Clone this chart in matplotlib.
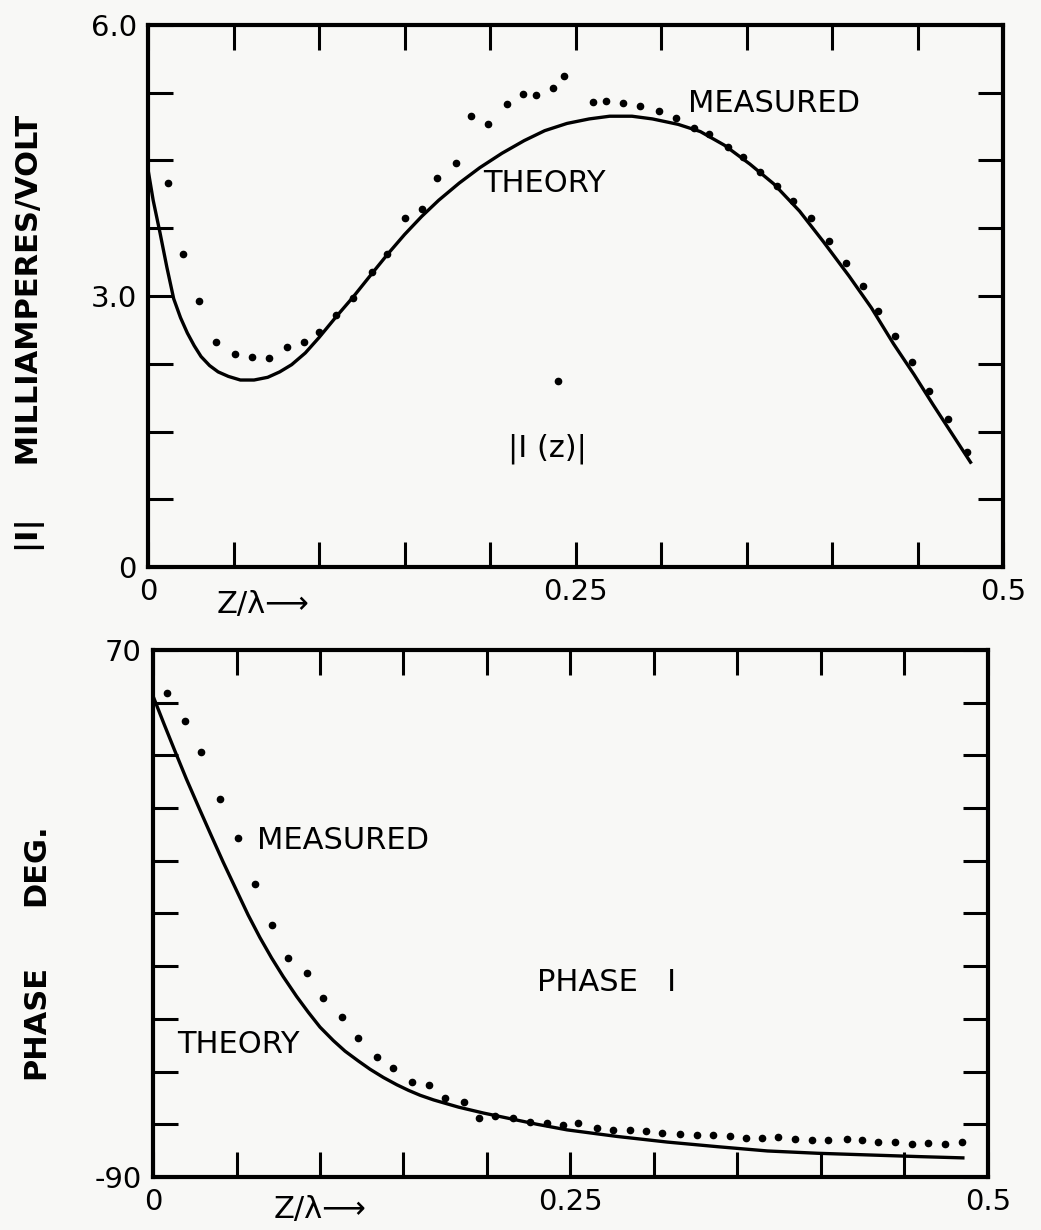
import matplotlib.pyplot as plt
import numpy as np

# |I(z)| in milliamperes/volt
amp_theory_z = [0, 0.003, 0.007, 0.011, 0.015, 0.019, 0.023, 0.027, 0.031, 0.036,
                0.041, 0.047, 0.054, 0.062, 0.070, 0.077, 0.084, 0.092, 0.100, 0.110,
                0.120, 0.131, 0.140, 0.150, 0.160, 0.170, 0.182, 0.194, 0.207, 0.220,
                0.232, 0.245, 0.258, 0.270, 0.283, 0.295, 0.310, 0.323, 0.337, 0.352,
                0.366, 0.381, 0.395, 0.410, 0.423, 0.436, 0.448, 0.459, 0.470, 0.481]
amp_theory = [4.40, 4.06, 3.70, 3.32, 2.97, 2.76, 2.59, 2.45, 2.33, 2.23,
              2.16, 2.11, 2.07, 2.07, 2.10, 2.16, 2.24, 2.37, 2.54, 2.77,
              2.99, 3.25, 3.46, 3.68, 3.88, 4.06, 4.25, 4.42, 4.58, 4.72,
              4.83, 4.91, 4.96, 4.99, 4.99, 4.96, 4.90, 4.82, 4.67, 4.46,
              4.24, 3.94, 3.60, 3.22, 2.87, 2.47, 2.13, 1.80, 1.48, 1.16]

amp_meas_z = [0.0117, 0.0205, 0.030, 0.040, 0.051, 0.061, 0.071, 0.081, 0.091, 0.100,
              0.110, 0.120, 0.131, 0.140, 0.150, 0.160, 0.169, 0.180, 0.189, 0.199,
              0.210, 0.219, 0.227, 0.237, 0.2398, 0.243, 0.260, 0.268, 0.278, 0.288,
              0.299, 0.309, 0.319, 0.328, 0.339, 0.348, 0.358, 0.368, 0.377, 0.388,
              0.398, 0.408, 0.418, 0.427, 0.437, 0.447, 0.457, 0.468, 0.479]
amp_meas = [4.25, 3.47, 2.94, 2.49, 2.36, 2.32, 2.31, 2.44, 2.49, 2.60,
            2.79, 2.98, 3.27, 3.47, 3.86, 3.96, 4.31, 4.47, 4.99, 4.90,
            5.13, 5.24, 5.22, 5.30, 2.06, 5.44, 5.15, 5.16, 5.14, 5.10,
            5.05, 4.97, 4.86, 4.79, 4.65, 4.54, 4.37, 4.22, 4.05, 3.86,
            3.61, 3.37, 3.11, 2.83, 2.56, 2.27, 1.95, 1.64, 1.27]

# phase of I(z) in degrees
ph_theory_z = [0, 0.0066, 0.0132, 0.020, 0.028, 0.035, 0.042, 0.050, 0.057, 0.064,
               0.071, 0.078, 0.086, 0.093, 0.100, 0.108, 0.115, 0.123, 0.130, 0.138,
               0.146, 0.153, 0.160, 0.168, 0.183, 0.198, 0.213, 0.230, 0.248, 0.278,
               0.308, 0.338, 0.368, 0.398, 0.428, 0.458, 0.485]
ph_theory = [56.0, 47.5, 39.2, 30.8, 21.5, 13.5, 5.6, -3.0, -10.5, -17.3,
             -23.5, -29.2, -35.2, -40.0, -44.5, -48.6, -51.8, -54.8, -57.3, -59.8,
             -62.0, -63.7, -65.2, -66.6, -68.8, -70.6, -72.2, -74.0, -75.7, -77.7,
             -79.4, -80.8, -82.1, -82.8, -83.3, -83.8, -84.2]

ph_meas_z = [0.0084, 0.019, 0.0287, 0.040, 0.051, 0.061, 0.071, 0.081, 0.092, 0.102,
             0.113, 0.123, 0.134, 0.144, 0.155, 0.165, 0.175, 0.186, 0.195, 0.205,
             0.2158, 0.2257, 0.2357, 0.2457, 0.2547, 0.2657, 0.2757, 0.2856, 0.2952, 0.305,
             0.3156, 0.3256, 0.3355, 0.3455, 0.3551, 0.3645, 0.3745, 0.3844, 0.3944, 0.4044,
             0.4154, 0.4244, 0.4343, 0.4443, 0.4543, 0.4643, 0.4743, 0.4842]
ph_meas = [57.0, 48.4, 39.0, 24.8, 12.9, -1.0, -13.5, -23.5, -28.1, -35.6,
           -41.4, -47.8, -53.6, -56.9, -61.1, -62.1, -66.0, -67.2, -72.0, -71.5,
           -72.2, -73.2, -73.5, -74.2, -73.5, -75.2, -75.7, -75.7, -76.0, -76.5,
           -77.0, -77.4, -77.2, -77.7, -78.2, -78.1, -77.9, -78.6, -78.8, -78.8,
           -78.6, -78.8, -79.5, -79.5, -80.1, -79.8, -80.1, -79.5]

x_ticks = np.arange(0, 0.5001, 0.05)
x_labels = ['0' if abs(t) < 1e-9 else '0.25' if abs(t - 0.25) < 1e-9 else
            '0.5' if abs(t - 0.5) < 1e-9 else '' for t in x_ticks]

bg = '#f8f8f6'
fs = 22
plt.rcParams['font.family'] = 'DejaVu Sans'

fig = plt.figure(figsize=(10.41, 12.30), dpi=100, facecolor=bg)
ax1 = fig.add_axes([0.1422, 0.539, 0.8213, 0.4407], facecolor=bg)
ax2 = fig.add_axes([0.147, 0.0431, 0.802, 0.4285], facecolor=bg)


def style_axes(ax, yticks, ylabels):
    for s in ax.spines.values():
        s.set_linewidth(3.0)
    ax.set_xticks(x_ticks, x_labels)
    ax.set_yticks(yticks, ylabels)
    ax.tick_params(direction='in', length=18, width=2.2, top=True, right=True,
                   labelsize=21, pad=8)


ax1.plot(amp_theory_z, amp_theory, color='black', lw=2.4)
ax1.plot(amp_meas_z, amp_meas, 'o', color='black', ms=4.5, ls='none')
ax1.set_xlim(0, 0.5)
ax1.set_ylim(0, 6.0)
yt1 = np.arange(0, 6.001, 0.75)
style_axes(ax1, yt1, ['0' if v == 0 else '3.0' if v == 3.0 else '6.0' if v == 6.0 else ''
                      for v in yt1])
ax1.text(0.196, 4.25, 'THEORY', fontsize=fs, va='center')
ax1.text(0.316, 5.13, 'MEASURED', fontsize=fs, va='center')
ax1.text(0.2105, 1.31, '|I (z)|', fontsize=fs, va='center')
ax1.text(0.04, -0.42, 'Z/λ⟶', fontsize=fs, va='center')

ax2.plot(ph_theory_z, ph_theory, color='black', lw=2.4)
ax2.plot(ph_meas_z, ph_meas, 'o', color='black', ms=4.5, ls='none')
ax2.set_xlim(0, 0.5)
ax2.set_ylim(-90, 70)
yt2 = np.arange(-90, 70.1, 16)
style_axes(ax2, yt2, ['-90' if v == -90 else '70' if v == 70 else '' for v in yt2])
ax2.text(0.0623, 12.3, 'MEASURED', fontsize=fs, va='center')
ax2.text(0.0144, -49.9, 'THEORY', fontsize=fs, va='center')
ax2.text(0.230, -31.1, 'PHASE   I', fontsize=fs, va='center')
ax2.text(0.072, -100, 'Z/λ⟶', fontsize=fs, va='center')

# y axis captions
fig.text(0.029, 1 - 333 / 1230, '|I|     MILLIAMPERES/VOLT', rotation=90,
         fontsize=22, fontweight='bold', ha='center', va='center')
fig.text(0.034, 1 - 865 / 1230, 'DEG.', rotation=90,
         fontsize=22, fontweight='bold', ha='center', va='center')
fig.text(0.034, 1 - 1022 / 1230, 'PHASE', rotation=90,
         fontsize=22, fontweight='bold', ha='center', va='center')

fig.savefig('out.png', dpi=100, facecolor=bg)
